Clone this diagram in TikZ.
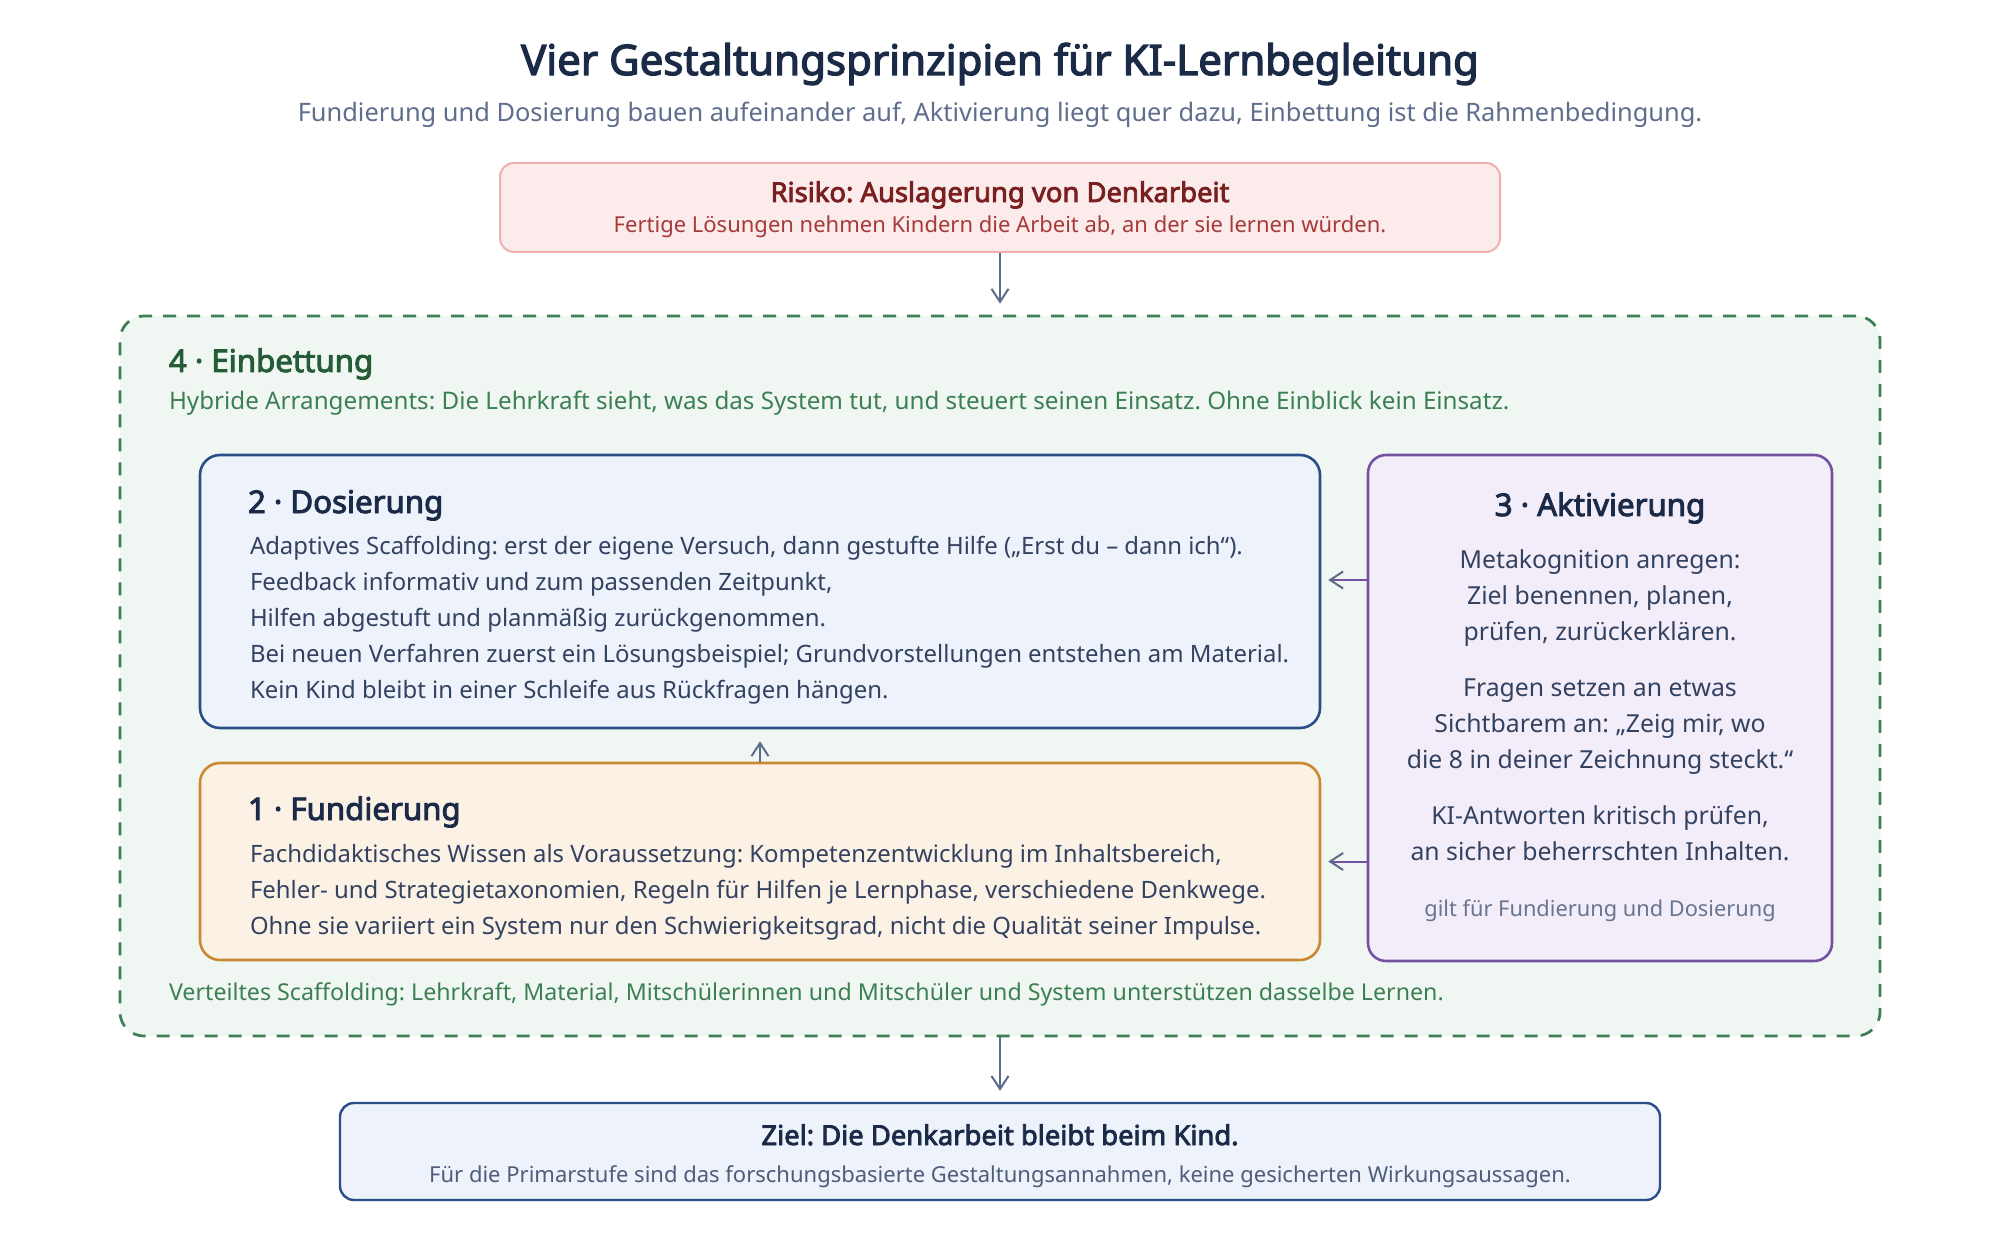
\documentclass[tikz,border=0pt]{standalone}
\usepackage{fontspec}
\setmainfont{Noto Sans}[AutoFakeBold=3]
\frenchspacing
\usetikzlibrary{arrows.meta}
\definecolor{cTitle}{HTML}{1B2A47}
\definecolor{cSub}{HTML}{5E6E8C}
\definecolor{cRiskFill}{HTML}{FCEBEB}
\definecolor{cRiskLine}{HTML}{F0AFAF}
\definecolor{cRiskTitle}{HTML}{7A1F1F}
\definecolor{cRiskText}{HTML}{A63A3A}
\definecolor{cArrow}{HTML}{5B6B8B}
\definecolor{cEinFill}{HTML}{F0F7F2}
\definecolor{cEinLine}{HTML}{3E7D55}
\definecolor{cEinTitle}{HTML}{245C38}
\definecolor{cEinText}{HTML}{3B7F52}
\definecolor{cDosFill}{HTML}{EDF2FB}
\definecolor{cDosLine}{HTML}{2B4E88}
\definecolor{cBody}{HTML}{334260}
\definecolor{cFundFill}{HTML}{FBF2E5}
\definecolor{cFundLine}{HTML}{C98934}
\definecolor{cAktFill}{HTML}{F3EDF9}
\definecolor{cAktLine}{HTML}{7452A3}
\definecolor{cGilt}{HTML}{67758F}
\definecolor{cZielText}{HTML}{4E5D7A}
\newcommand{\fsTitle}{\fontsize{21}{25}\selectfont\bfseries}
\newcommand{\fsSub}{\fontsize{12.7}{15}\selectfont}
\newcommand{\fsBoxTitle}{\fontsize{13.7}{16}\selectfont\bfseries}
\newcommand{\fsBoxSub}{\fontsize{11}{13}\selectfont}
\newcommand{\fsHead}{\fontsize{15.6}{18}\selectfont\bfseries}
\newcommand{\fsEinA}{\fontsize{12.1}{14}\selectfont}
\newcommand{\fsEinB}{\fontsize{11.6}{14}\selectfont}
\newcommand{\fsBody}{\fontsize{11.95}{14}\selectfont}
\newcommand{\fsAkt}{\fontsize{12.4}{14}\selectfont}
\newcommand{\fsGilt}{\fontsize{10.9}{12}\selectfont}
\begin{document}
\begin{tikzpicture}[x=0.5pt,y=-0.5pt,
  txt/.style={inner sep=0pt, outer sep=0pt},
  boxbase/.style={draw, rounded corners=#1, inner sep=0pt},
  arr/.style={draw=cArrow, line width=1pt, -{Straight Barb[length=6.5pt,width=8.5pt,line width=1pt,color=cArrow]}},
  parr/.style={draw=cAktLine, line width=1pt, -{Straight Barb[length=6.5pt,width=8.5pt,line width=1pt,color=cArrow]}}
]
\useasboundingbox[fill=white] (0,0) rectangle (2000,1240);

% title
\node[txt, anchor=base, text=cTitle, font=\fsTitle] (title) at (1000,75) {Vier Gestaltungsprinzipien für KI-Lernbegleitung};
\node[txt, anchor=base, text=cSub, font=\fsSub] (subtitle) at (1000,122) {Fundierung und Dosierung bauen aufeinander auf, Aktivierung liegt quer dazu, Einbettung ist die Rahmenbedingung.};

% risk
\node[boxbase=7pt, fill=cRiskFill, draw=cRiskLine, line width=1pt, minimum width=500pt, minimum height=44.5pt] (risk) at (1000,207.5) {};
\node[txt, anchor=base, text=cRiskTitle, font=\fsBoxTitle] (risktitle) at (1000,202) {Risiko: Auslagerung von Denkarbeit};
\node[txt, anchor=base, text=cRiskText, font=\fsBoxSub] (risksub) at (1000,233) {Fertige Lösungen nehmen Kindern die Arbeit ab, an der sie lernen würden.};

% einbettung
\node[boxbase=12pt, fill=cEinFill, draw=cEinLine, line width=1.35pt, dash pattern=on 6.5pt off 5.5pt, minimum width=880pt, minimum height=360pt] (einb) at (1000,676) {};
\node[txt, anchor=base west, text=cEinTitle, font=\fsHead] (eintitle) at (169,372) {4 · Einbettung};
\node[txt, anchor=base west, text=cEinText, font=\fsEinA] (eintext) at (169,410) {Hybride Arrangements: Die Lehrkraft sieht, was das System tut, und steuert seinen Einsatz. Ohne Einblick kein Einsatz.};
\node[txt, anchor=base west, text=cEinText, font=\fsEinB] (einfoot) at (169,1000) {Verteiltes Scaffolding: Lehrkraft, Material, Mitschülerinnen und Mitschüler und System unterstützen dasselbe Lernen.};

% dosierung
\node[boxbase=10pt, fill=cDosFill, draw=cDosLine, line width=1.3pt, minimum width=560pt, minimum height=136.5pt] (dos) at (760,591.5) {};
\node[txt, anchor=base west, text=cTitle, font=\fsHead] (dostitle) at (248,513) {2 · Dosierung};
\node[txt, anchor=base west, text=cBody, font=\fsBody] (dos1) at (250,554) {Adaptives Scaffolding: erst der eigene Versuch, dann gestufte Hilfe („Erst du – dann ich“).};
\node[txt, anchor=base west, text=cBody, font=\fsBody] (dos2) at (250,590) {Feedback informativ und zum passenden Zeitpunkt,};
\node[txt, anchor=base west, text=cBody, font=\fsBody] (dos3) at (250,626) {Hilfen abgestuft und planmäßig zurückgenommen.};
\node[txt, anchor=base west, text=cBody, font=\fsBody] (dos4) at (250,662) {Bei neuen Verfahren zuerst ein Lösungsbeispiel; Grundvorstellungen entstehen am Material.};
\node[txt, anchor=base west, text=cBody, font=\fsBody] (dos5) at (250,698) {Kein Kind bleibt in einer Schleife aus Rückfragen hängen.};

% fundierung
\node[boxbase=10pt, fill=cFundFill, draw=cFundLine, line width=1.3pt, minimum width=560pt, minimum height=98.5pt] (fund) at (760,861.5) {};
\node[txt, anchor=base west, text=cTitle, font=\fsHead] (fundtitle) at (248,820) {1 · Fundierung};
\node[txt, anchor=base west, text=cBody, font=\fsBody] (fund1) at (250,862) {Fachdidaktisches Wissen als Voraussetzung: Kompetenzentwicklung im Inhaltsbereich,};
\node[txt, anchor=base west, text=cBody, font=\fsBody] (fund2) at (250,898) {Fehler- und Strategietaxonomien, Regeln für Hilfen je Lernphase, verschiedene Denkwege.};
\node[txt, anchor=base west, text=cBody, font=\fsBody] (fund3) at (250,934) {Ohne sie variiert ein System nur den Schwierigkeitsgrad, nicht die Qualität seiner Impulse.};

% aktivierung
\node[boxbase=9pt, fill=cAktFill, draw=cAktLine, line width=1.3pt, minimum width=232pt, minimum height=253pt] (akt) at (1600,708) {};
\node[txt, anchor=base, text=cTitle, font=\fsHead] (akttitle) at (1600,516) {3 · Aktivierung};
\node[txt, anchor=base, text=cBody, font=\fsAkt] (akt1) at (1600,568) {Metakognition anregen:};
\node[txt, anchor=base, text=cBody, font=\fsAkt] (akt2) at (1600,604) {Ziel benennen, planen,};
\node[txt, anchor=base, text=cBody, font=\fsAkt] (akt3) at (1600,640) {prüfen, zurückerklären.};
\node[txt, anchor=base, text=cBody, font=\fsAkt] (akt4) at (1600,696) {Fragen setzen an etwas};
\node[txt, anchor=base, text=cBody, font=\fsAkt] (akt5) at (1600,732) {Sichtbarem an: „Zeig mir, wo};
\node[txt, anchor=base, text=cBody, font=\fsAkt] (akt6) at (1600,768) {die 8 in deiner Zeichnung steckt.“};
\node[txt, anchor=base, text=cBody, font=\fsAkt] (akt7) at (1600,824) {KI-Antworten kritisch prüfen,};
\node[txt, anchor=base, text=cBody, font=\fsAkt] (akt8) at (1600,860) {an sicher beherrschten Inhalten.};
\node[txt, anchor=base, text=cGilt, font=\fsGilt] (aktgilt) at (1600,916) {gilt für Fundierung und Dosierung};

% ziel
\node[boxbase=7pt, fill=cDosFill, draw=cDosLine, line width=1.2pt, minimum width=660pt, minimum height=48.5pt] (ziel) at (1000,1151.5) {};
\node[txt, anchor=base, text=cTitle, font=\fsBoxTitle] (zieltitle) at (1000,1145) {Ziel: Die Denkarbeit bleibt beim Kind.};
\node[txt, anchor=base, text=cZielText, font=\fsBoxSub] (zielsub) at (1000,1182) {Für die Primarstufe sind das forschungsbasierte Gestaltungsannahmen, keine gesicherten Wirkungsaussagen.};

% connectors
\coordinate (aktA) at (1368,580);
\draw[arr, shorten >=5.5pt] (risk.south) -- (einb.north);
\draw[arr, shorten >=6pt] (fund.north) -- (dos.south);
\draw[parr, shorten >=3.5pt] (aktA) -- (dos.east |- aktA);
\draw[parr, shorten >=3.5pt] (akt.west |- fund.east) -- (fund.east);
\draw[arr, shorten >=5.5pt] (einb.south) -- (ziel.north);
\end{tikzpicture}
\end{document}
